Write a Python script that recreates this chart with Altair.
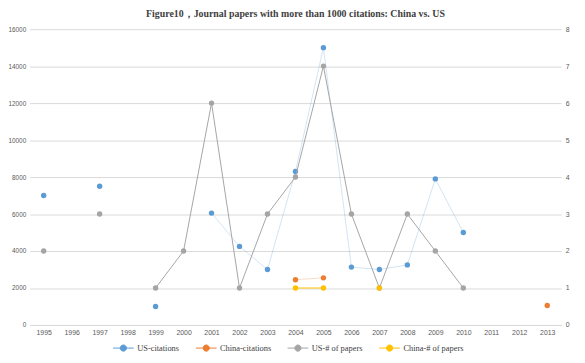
import altair as alt
import pandas as pd

years = [str(y) for y in range(1995, 2014)]
us_citations = [7000, None, 7500, None, 1000, None, 6050, 4250, 3000, 8300, 15000, 3130, 3000, 3250, 7900, 5000, None, None, None]
china_citations = [None, None, None, None, None, None, None, None, None, 2450, 2550, None, None, None, None, None, None, None, 1050]
us_papers = [2, None, 3, None, 1, 2, 6, 1, 3, 4, 7, 3, 1, 3, 2, 1, None, None, None]
china_papers = [None, None, None, None, None, None, None, None, None, 1, 1, None, 1, None, None, None, None, None, None]

series_names = ["US-citations", "China-citations", "US-# of papers", "China-# of papers"]
series_colors = ["#5B9BD5", "#ED7D31", "#A5A5A5", "#FFC000"]


def long_df(name, values):
    rows = []
    seg = 0
    prev_none = True
    for y, v in zip(years, values):
        if v is None:
            prev_none = True
            continue
        if prev_none:
            seg += 1
        prev_none = False
        rows.append({"year": y, "value": v, "series": name, "seg": f"{name}-{seg}"})
    return rows


cit_df = pd.DataFrame(long_df(series_names[0], us_citations) + long_df(series_names[1], china_citations))
pap_df = pd.DataFrame(long_df(series_names[2], us_papers) + long_df(series_names[3], china_papers))

legend_path = "M-1,0L1,0M-0.3,0a0.3,0.3 0 1,0 0.6,0a0.3,0.3 0 1,0 -0.6,0Z"

color = alt.Color(
    "series:N",
    scale=alt.Scale(domain=series_names, range=series_colors),
    legend=alt.Legend(
        title=None,
        orient="none",
        direction="horizontal",
        legendX=84,
        legendY=312,
        symbolType=legend_path,
        symbolSize=441,
        symbolStrokeWidth=1,
        symbolOpacity=1,
        labelFont="Liberation Serif",
        labelFontSize=8.5,
        labelColor="#404040",
        columnPadding=14,
        labelOffset=3,
    ),
)

x = alt.X(
    "year:O",
    scale=alt.Scale(domain=years, padding=0.5),
    axis=alt.Axis(
        title=None,
        labelAngle=0,
        ticks=False,
        domainColor="#D9D9D9",
        labelFont="Liberation Sans",
        labelFontSize=7,
        labelColor="#595959",
        labelPadding=4,
    ),
)

y_left = alt.Y(
    "value:Q",
    scale=alt.Scale(domain=[0, 16000]),
    axis=alt.Axis(
        title=None,
        orient="left",
        values=list(range(0, 16001, 2000)),
        format="d",
        ticks=False,
        domain=False,
        grid=True,
        gridColor="#D9D9D9",
        labelFont="Liberation Sans",
        labelFontSize=6.5,
        labelColor="#595959",
        labelPadding=4,
    ),
)

y_right = alt.Y(
    "value:Q",
    scale=alt.Scale(domain=[0, 8]),
    axis=alt.Axis(
        title=None,
        orient="right",
        values=list(range(0, 9)),
        format="d",
        ticks=False,
        domain=False,
        grid=False,
        labelFont="Liberation Sans",
        labelFontSize=7,
        labelColor="#595959",
        labelPadding=4,
    ),
)

cit_base = alt.Chart(cit_df)
cit_layer = alt.layer(
    cit_base.mark_line(strokeWidth=0.8, strokeOpacity=0.35).encode(x=x, y=y_left, color=color, detail="seg:N"),
    cit_base.mark_point(filled=True, size=30, opacity=1).encode(x=x, y=y_left, color=color),
)

pap_base = alt.Chart(pap_df)
pap_layer = alt.layer(
    pap_base.mark_line(strokeWidth=1).encode(x=x, y=y_right, color=color, detail="seg:N"),
    pap_base.mark_point(filled=True, size=30, opacity=1).encode(x=x, y=y_right, color=color),
)

chart = (
    alt.layer(cit_layer, pap_layer)
    .resolve_scale(y="independent")
    .properties(
        width=539,
        height=300,
        title=alt.TitleParams(
            "Figure10，Journal papers with more than 1000 citations: China vs. US",
            font="Liberation Serif",
            fontSize=10,
            fontWeight="bold",
            color="#404040",
            anchor="middle",
            offset=6,
        ),
        autosize=alt.AutoSizeParams(type="none"),
        padding={"left": 22, "top": 19, "right": 16, "bottom": 28},
        background="white",
    )
    .configure_view(stroke=None)
)

chart.save("out.html", embed_options={"renderer": "svg", "actions": False})
